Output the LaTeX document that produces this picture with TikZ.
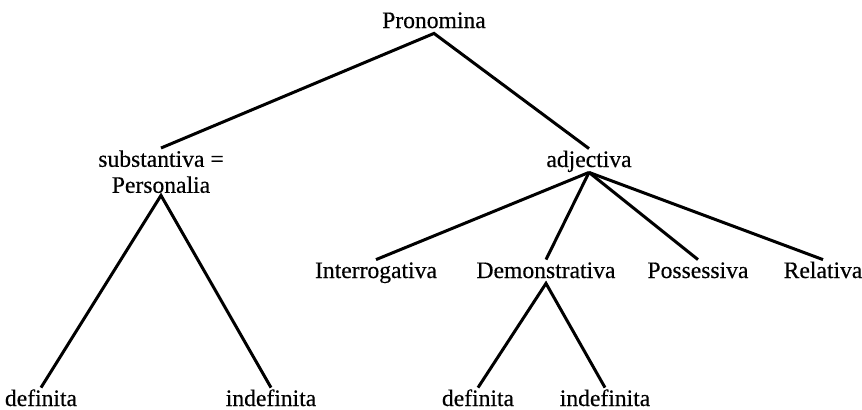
\documentclass[tikz,border=0pt]{standalone}
\usepackage{fontspec}
\setmainfont{Liberation Serif}[FakeBold=0.4]
\usepackage{tikz}

\newcommand{\pronfont}{\fontsize{11.8pt}{13pt}\selectfont}

\tikzset{
  word/.style={font=\pronfont, inner sep=1pt, text height=8pt, text depth=1.5pt},
  twoline/.style={font=\pronfont, inner sep=1pt, align=center},
  branch/.style={line width=1.5pt}
}

\begin{document}
\begin{tikzpicture}[x=0.5pt, y=-0.5pt]
	\useasboundingbox (0,0) rectangle (862,409);
	% top
	\node[word, anchor=base] (pron) at (434,28) {Pronomina};
	\node[twoline, anchor=north] (subst) at (161,148) {substantiva =\\Personalia};
	\node[word, anchor=base] (adj) at (589,167) {adjectiva};
	% adjectiva row
	\node[word, anchor=base] (inter) at (376,278) {Interrogativa};
	\node[word, anchor=base] (demo) at (546,278) {Demonstrativa};
	\node[word, anchor=base] (poss) at (698,278) {Possessiva};
	\node[word, anchor=base] (rel) at (823,278) {Relativa};
	% bottom row
	\node[word, anchor=base] (subst_def) at (41,406) {definita};
	\node[word, anchor=base] (subst_indef) at (271,406) {indefinita};
	\node[word, anchor=base] (demo_def) at (478,406) {definita};
	\node[word, anchor=base] (demo_indef) at (605,406) {indefinita};

	\draw[branch] (subst.north) -- (pron.south) -- (adj.north);
	\draw[branch] (subst_def.north) -- (subst.south) -- (subst_indef.north);
	\foreach \kind in {inter,demo,poss,rel}
	  \draw[branch] (adj.south) -- (\kind.north);
	\draw[branch] (demo_def.north) -- (demo.south) -- (demo_indef.north);
\end{tikzpicture}
\end{document}
